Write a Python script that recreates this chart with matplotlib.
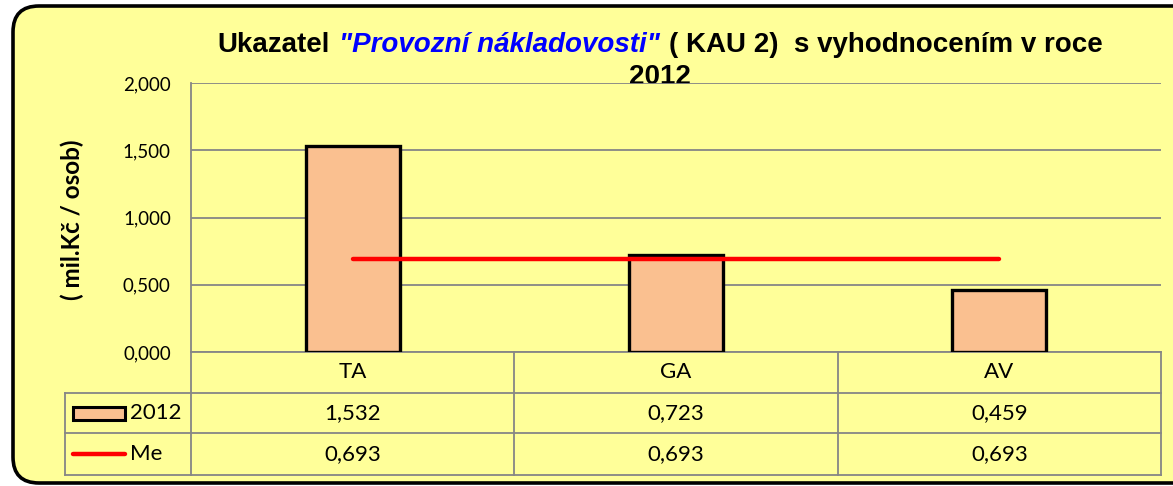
import matplotlib
matplotlib.use("Agg")
import matplotlib.pyplot as plt
from matplotlib.patches import FancyBboxPatch, Rectangle
from matplotlib.lines import Line2D
from matplotlib.transforms import blended_transform_factory

# ---- data ----
categories = ["TA", "GA", "AV"]
values_2012 = [1.532, 0.723, 0.459]
values_me = [0.693, 0.693, 0.693]
series_names = ["2012", "Me"]
y_ticks = [0.0, 0.5, 1.0, 1.5, 2.0]

title_parts = ["Ukazatel", "\"Provozní nákladovosti\"", "( KAU 2)  s vyhodnocením v roce"]
title_line2 = "2012"
y_label = "( mil.Kč / osob)"

# ---- style ----
BG = "#FFFF99"
BAR = "#FAC090"
RED = "#FF0000"
GRID = "#868686"
W, H = 1173, 486
TFS = 16  # table font size

def fmt(v):
    return f"{v:.3f}".replace(".", ",")

fig = plt.figure(figsize=(W / 100, H / 100), dpi=100)
fig.patch.set_facecolor("white")

# background axes in pixel units
bg = fig.add_axes([0, 0, 1, 1])
bg.set_xlim(0, W)
bg.set_ylim(H, 0)
bg.axis("off")
bg.add_patch(FancyBboxPatch((13, 6), 1190, 477, boxstyle="round,pad=0,rounding_size=26",
                            facecolor=BG, edgecolor="black", linewidth=2.6))

L, R, T, B = 191, 1161, 83, 352
ax = fig.add_axes([L / W, 1 - B / H, (R - L) / W, (B - T) / H])
ax.set_facecolor("none")
n = len(categories)
xs = [i + 0.5 for i in range(n)]
ax.set_xlim(0, n)
ax.set_ylim(0, 2.0)
ax.set_yticks(y_ticks)
ax.set_yticklabels([fmt(v) for v in y_ticks], fontfamily="Lato", fontsize=13.5)
ax.tick_params(axis="y", length=0, pad=14.5)
ax.set_xticks([])
ax.yaxis.grid(True, color=GRID, linewidth=1.3)
ax.set_axisbelow(True)
for s in ["top", "right"]:
    ax.spines[s].set_visible(False)
for s in ["left", "bottom"]:
    ax.spines[s].set_color(GRID)
    ax.spines[s].set_linewidth(1.3)

ax.bar(xs, values_2012, width=0.29, color=BAR, edgecolor="black", linewidth=2.4, zorder=3)
ax.plot(xs, values_me, color=RED, linewidth=3.2, solid_capstyle="round", zorder=4)

# ---- data table ----
tr = blended_transform_factory(ax.transData, bg.transData)
rows_y = [352, 393, 433, 475]
key_left = 65
def hline(x0, x1, y, trans):
    bg.add_line(Line2D([x0, x1], [y, y], color=GRID, linewidth=1.3, transform=trans, clip_on=False))
def vline(x, y0, y1, trans):
    bg.add_line(Line2D([x, x], [y0, y1], color=GRID, linewidth=1.3, transform=trans, clip_on=False))

for y in rows_y[1:]:
    hline(key_left, L, y, bg.transData)
    hline(0, n, y, tr)
for i in range(n + 1):
    vline(i, rows_y[0], rows_y[-1], tr)
vline(key_left, rows_y[1], rows_y[-1], bg.transData)

for x, c in zip(xs, categories):
    bg.text(x, 372, c, transform=tr, ha="center", va="center", fontfamily="Lato", fontsize=TFS)
for x, v in zip(xs, values_2012):
    bg.text(x, 413, fmt(v), transform=tr, ha="center", va="center", fontfamily="Lato", fontsize=TFS)
for x, v in zip(xs, values_me):
    bg.text(x, 454, fmt(v), transform=tr, ha="center", va="center", fontfamily="Lato", fontsize=TFS)

# legend keys
bg.add_patch(Rectangle((73, 407), 52, 13, facecolor=BAR, edgecolor="black", linewidth=2.2))
bg.text(130, 413, series_names[0], ha="left", va="center", fontfamily="Lato", fontsize=TFS)
bg.add_line(Line2D([73, 125], [454, 454], color=RED, linewidth=3.2, solid_capstyle="round"))
bg.text(130, 454, series_names[1], ha="left", va="center", fontfamily="Lato", fontsize=TFS)

# y label
bg.text(72, 220, y_label, rotation=90, ha="center", va="center", fontfamily="Lato",
        fontweight="bold", fontsize=17.5)

# ---- title with mixed styles ----
renderer = fig.canvas.get_renderer()
tfs = 20
styles = [dict(color="black", style="normal"), dict(color="#0000FF", style="italic"),
          dict(color="black", style="normal")]
texts = []
for part, st in zip(title_parts, styles):
    t = bg.text(0, 52, part, ha="left", va="baseline", fontfamily="Liberation Sans",
                fontweight="bold", fontsize=tfs, color=st["color"], fontstyle=st["style"])
    texts.append(t)
probe1 = bg.text(0, 0, "x x", fontfamily="Liberation Sans", fontweight="bold", fontsize=tfs)
probe2 = bg.text(0, 0, "xx", fontfamily="Liberation Sans", fontweight="bold", fontsize=tfs)
gap = 1.2 * (probe1.get_window_extent(renderer).width - probe2.get_window_extent(renderer).width)
probe1.remove(); probe2.remove()
widths = [t.get_window_extent(renderer).width for t in texts]
total = sum(widths) + gap * (len(texts) - 1)
cx = 660
x = cx - total / 2
for t, w in zip(texts, widths):
    t.set_x(x)
    x += w + gap
bg.text(cx, 84, title_line2, ha="center", va="baseline", fontfamily="Liberation Sans",
        fontweight="bold", fontsize=tfs, color="black")

fig.savefig("out.png", dpi=100, facecolor="white")
